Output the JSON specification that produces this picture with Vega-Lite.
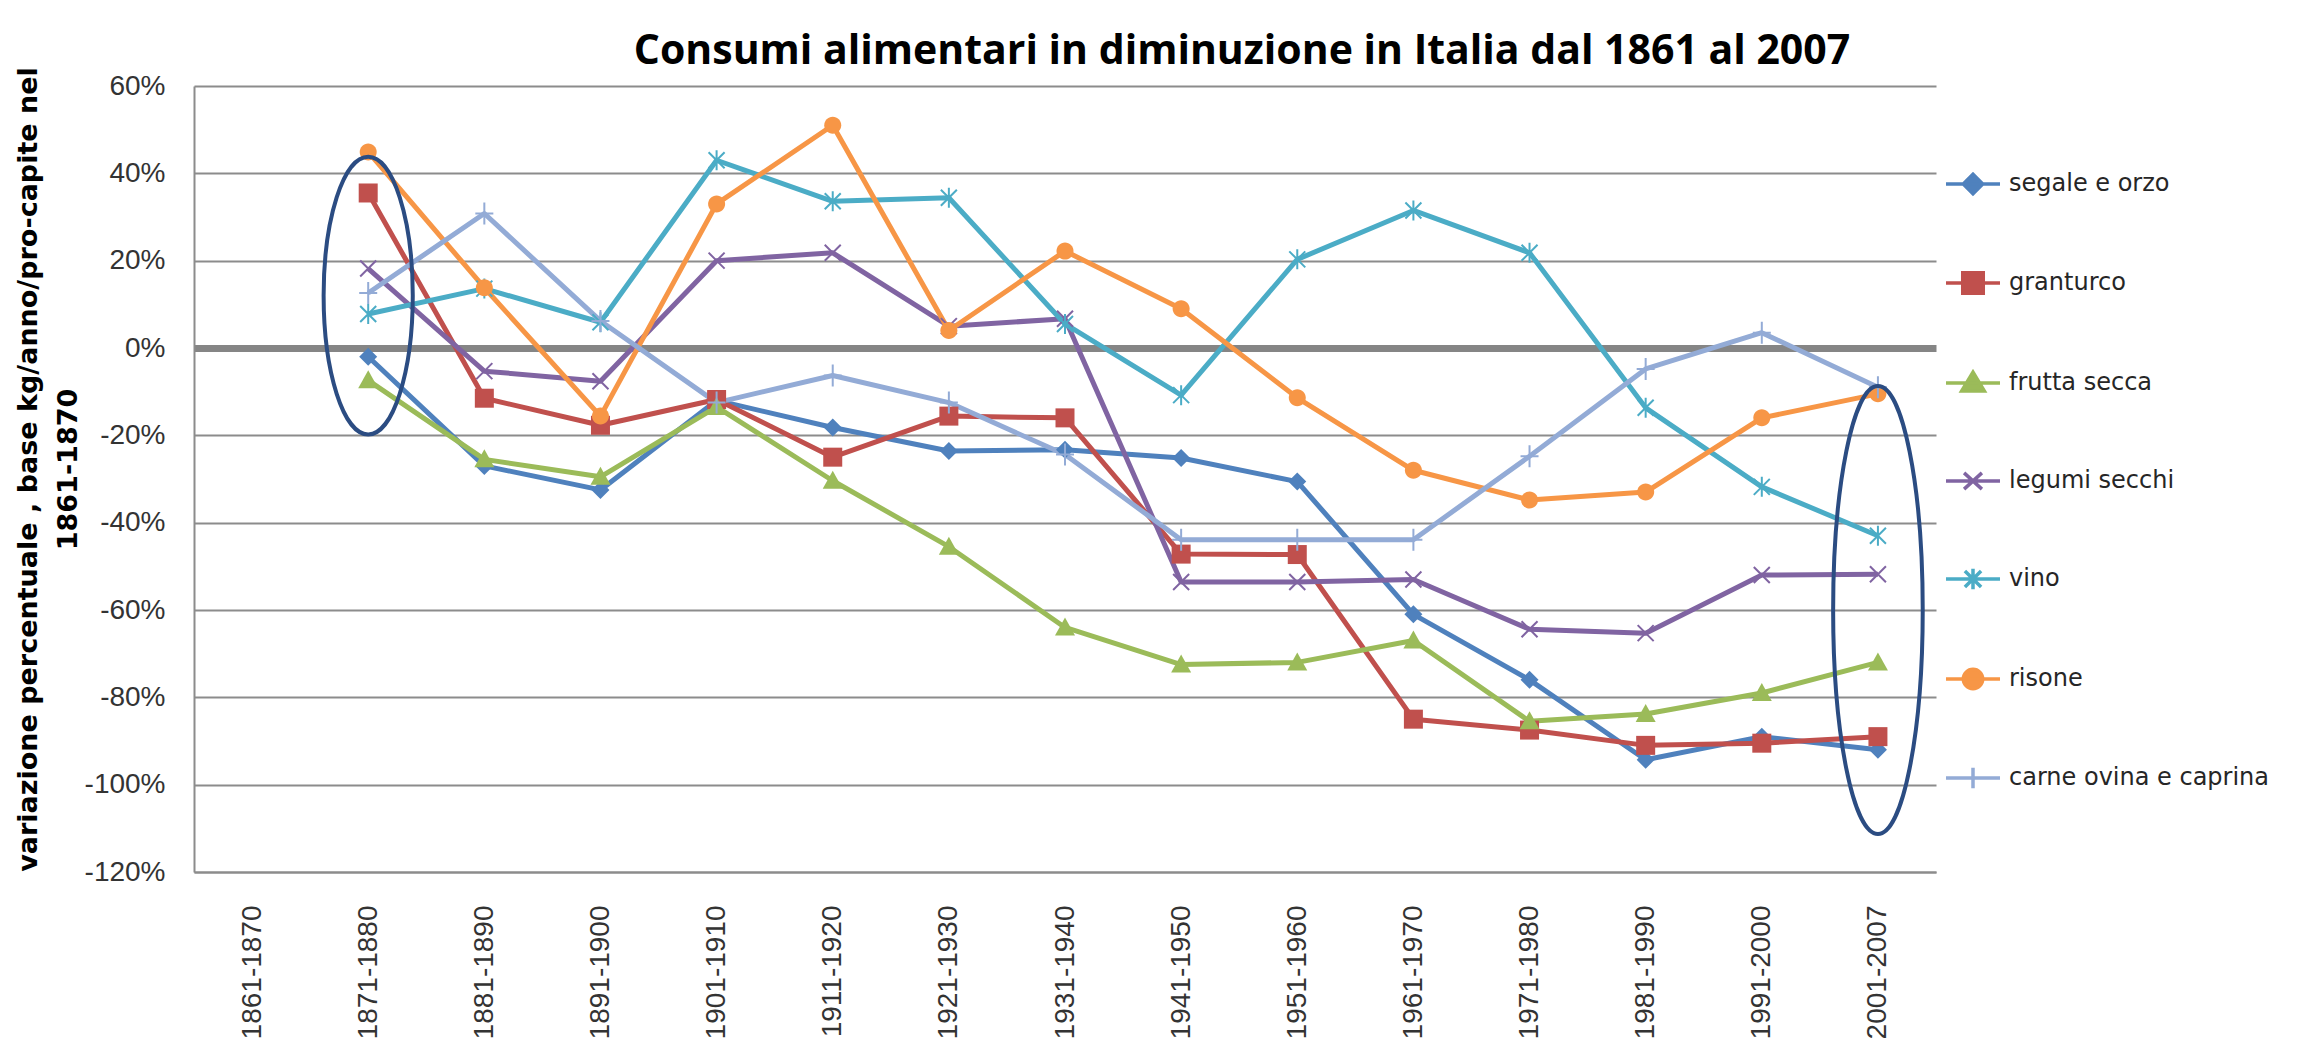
{
  "$schema": "https://vega.github.io/schema/vega-lite/v6.json",
  "width": 1742,
  "height": 786,
  "autosize": {"type": "none"},
  "padding": {"left": 194, "top": 86, "right": 377, "bottom": 186},
  "background": "white",
  "config": {"view": {"stroke": null}, "font": "Liberation Sans"},
  "title": {
    "text": "Consumi alimentari in diminuzione in Italia dal 1861 al 2007",
    "font": "Open Sans", "fontSize": 41, "fontWeight": "bold", "color": "#000000",
    "anchor": "middle", "dx": 177, "dy": 54, "offset": 16, "baseline": "alphabetic", "frame": "group"
  },
  "datasets": {
    "serie": [
      {"serie": "segale e orzo", "periodo": "1871-1880", "valore": -2},
      {"serie": "segale e orzo", "periodo": "1881-1890", "valore": -27},
      {"serie": "segale e orzo", "periodo": "1891-1900", "valore": -32.5},
      {"serie": "segale e orzo", "periodo": "1901-1910", "valore": -12},
      {"serie": "segale e orzo", "periodo": "1911-1920", "valore": -18.2},
      {"serie": "segale e orzo", "periodo": "1921-1930", "valore": -23.6},
      {"serie": "segale e orzo", "periodo": "1931-1940", "valore": -23.3},
      {"serie": "segale e orzo", "periodo": "1941-1950", "valore": -25.2},
      {"serie": "segale e orzo", "periodo": "1951-1960", "valore": -30.6},
      {"serie": "segale e orzo", "periodo": "1961-1970", "valore": -61},
      {"serie": "segale e orzo", "periodo": "1971-1980", "valore": -76},
      {"serie": "segale e orzo", "periodo": "1981-1990", "valore": -94.3},
      {"serie": "segale e orzo", "periodo": "1991-2000", "valore": -89},
      {"serie": "segale e orzo", "periodo": "2001-2007", "valore": -92},
      {"serie": "granturco", "periodo": "1871-1880", "valore": 35.5},
      {"serie": "granturco", "periodo": "1881-1890", "valore": -11.5},
      {"serie": "granturco", "periodo": "1891-1900", "valore": -17.7},
      {"serie": "granturco", "periodo": "1901-1910", "valore": -11.8},
      {"serie": "granturco", "periodo": "1911-1920", "valore": -25},
      {"serie": "granturco", "periodo": "1921-1930", "valore": -15.6},
      {"serie": "granturco", "periodo": "1931-1940", "valore": -16},
      {"serie": "granturco", "periodo": "1941-1950", "valore": -47.2},
      {"serie": "granturco", "periodo": "1951-1960", "valore": -47.3},
      {"serie": "granturco", "periodo": "1961-1970", "valore": -85},
      {"serie": "granturco", "periodo": "1971-1980", "valore": -87.5},
      {"serie": "granturco", "periodo": "1981-1990", "valore": -91},
      {"serie": "granturco", "periodo": "1991-2000", "valore": -90.5},
      {"serie": "granturco", "periodo": "2001-2007", "valore": -89},
      {"serie": "frutta secca", "periodo": "1871-1880", "valore": -7.4},
      {"serie": "frutta secca", "periodo": "1881-1890", "valore": -25.5},
      {"serie": "frutta secca", "periodo": "1891-1900", "valore": -29.5},
      {"serie": "frutta secca", "periodo": "1901-1910", "valore": -13.5},
      {"serie": "frutta secca", "periodo": "1911-1920", "valore": -30.4},
      {"serie": "frutta secca", "periodo": "1921-1930", "valore": -45.5},
      {"serie": "frutta secca", "periodo": "1931-1940", "valore": -64},
      {"serie": "frutta secca", "periodo": "1941-1950", "valore": -72.5},
      {"serie": "frutta secca", "periodo": "1951-1960", "valore": -72},
      {"serie": "frutta secca", "periodo": "1961-1970", "valore": -67},
      {"serie": "frutta secca", "periodo": "1971-1980", "valore": -85.5},
      {"serie": "frutta secca", "periodo": "1981-1990", "valore": -83.8},
      {"serie": "frutta secca", "periodo": "1991-2000", "valore": -79},
      {"serie": "frutta secca", "periodo": "2001-2007", "valore": -72},
      {"serie": "legumi secchi", "periodo": "1871-1880", "valore": 18.2},
      {"serie": "legumi secchi", "periodo": "1881-1890", "valore": -5.3},
      {"serie": "legumi secchi", "periodo": "1891-1900", "valore": -7.6},
      {"serie": "legumi secchi", "periodo": "1901-1910", "valore": 20},
      {"serie": "legumi secchi", "periodo": "1911-1920", "valore": 21.8},
      {"serie": "legumi secchi", "periodo": "1921-1930", "valore": 5},
      {"serie": "legumi secchi", "periodo": "1931-1940", "valore": 6.7},
      {"serie": "legumi secchi", "periodo": "1941-1950", "valore": -53.6},
      {"serie": "legumi secchi", "periodo": "1951-1960", "valore": -53.6},
      {"serie": "legumi secchi", "periodo": "1961-1970", "valore": -53},
      {"serie": "legumi secchi", "periodo": "1971-1980", "valore": -64.4},
      {"serie": "legumi secchi", "periodo": "1981-1990", "valore": -65.3},
      {"serie": "legumi secchi", "periodo": "1991-2000", "valore": -52},
      {"serie": "legumi secchi", "periodo": "2001-2007", "valore": -51.8},
      {"serie": "vino", "periodo": "1871-1880", "valore": 7.8},
      {"serie": "vino", "periodo": "1881-1890", "valore": 13.6},
      {"serie": "vino", "periodo": "1891-1900", "valore": 5.9},
      {"serie": "vino", "periodo": "1901-1910", "valore": 43},
      {"serie": "vino", "periodo": "1911-1920", "valore": 33.6},
      {"serie": "vino", "periodo": "1921-1930", "valore": 34.4},
      {"serie": "vino", "periodo": "1931-1940", "valore": 5.5},
      {"serie": "vino", "periodo": "1941-1950", "valore": -10.8},
      {"serie": "vino", "periodo": "1951-1960", "valore": 20.3},
      {"serie": "vino", "periodo": "1961-1970", "valore": 31.5},
      {"serie": "vino", "periodo": "1971-1980", "valore": 21.8},
      {"serie": "vino", "periodo": "1981-1990", "valore": -13.7},
      {"serie": "vino", "periodo": "1991-2000", "valore": -31.8},
      {"serie": "vino", "periodo": "2001-2007", "valore": -43},
      {"serie": "risone", "periodo": "1871-1880", "valore": 44.9},
      {"serie": "risone", "periodo": "1881-1890", "valore": 13.8},
      {"serie": "risone", "periodo": "1891-1900", "valore": -15.6},
      {"serie": "risone", "periodo": "1901-1910", "valore": 33},
      {"serie": "risone", "periodo": "1911-1920", "valore": 51},
      {"serie": "risone", "periodo": "1921-1930", "valore": 4},
      {"serie": "risone", "periodo": "1931-1940", "valore": 22.2},
      {"serie": "risone", "periodo": "1941-1950", "valore": 9},
      {"serie": "risone", "periodo": "1951-1960", "valore": -11.4},
      {"serie": "risone", "periodo": "1961-1970", "valore": -28},
      {"serie": "risone", "periodo": "1971-1980", "valore": -34.8},
      {"serie": "risone", "periodo": "1981-1990", "valore": -33},
      {"serie": "risone", "periodo": "1991-2000", "valore": -16},
      {"serie": "risone", "periodo": "2001-2007", "valore": -10.5},
      {"serie": "carne ovina e caprina", "periodo": "1871-1880", "valore": 12.6},
      {"serie": "carne ovina e caprina", "periodo": "1881-1890", "valore": 30.8},
      {"serie": "carne ovina e caprina", "periodo": "1891-1900", "valore": 6.2},
      {"serie": "carne ovina e caprina", "periodo": "1901-1910", "valore": -12.5},
      {"serie": "carne ovina e caprina", "periodo": "1911-1920", "valore": -6.3},
      {"serie": "carne ovina e caprina", "periodo": "1921-1930", "valore": -12.5},
      {"serie": "carne ovina e caprina", "periodo": "1931-1940", "valore": -24.4},
      {"serie": "carne ovina e caprina", "periodo": "1941-1950", "valore": -43.9},
      {"serie": "carne ovina e caprina", "periodo": "1951-1960", "valore": -43.9},
      {"serie": "carne ovina e caprina", "periodo": "1961-1970", "valore": -43.9},
      {"serie": "carne ovina e caprina", "periodo": "1971-1980", "valore": -24.8},
      {"serie": "carne ovina e caprina", "periodo": "1981-1990", "valore": -4.8},
      {"serie": "carne ovina e caprina", "periodo": "1991-2000", "valore": 3.5},
      {"serie": "carne ovina e caprina", "periodo": "2001-2007", "valore": -9}
    ]
  },
  "layer": [
    {
      "data": {"name": "serie"},
      "mark": {"type": "line", "strokeWidth": 5, "strokeJoin": "round"},
      "encoding": {
        "x": {
          "field": "periodo", "type": "ordinal",
          "scale": {"type": "point", "padding": 0.5, "domain": ["1861-1870","1871-1880","1881-1890","1891-1900","1901-1910","1911-1920","1921-1930","1931-1940","1941-1950","1951-1960","1961-1970","1971-1980","1981-1990","1991-2000","2001-2007"]},
          "axis": {
            "title": null, "labelAngle": 270, "labelPadding": 33, "ticks": false,
            "labelFont": "Liberation Sans", "labelFontSize": 28, "labelColor": "#333333",
            "domainColor": "#8c8c8c", "domainWidth": 2, "grid": false
          }
        },
        "y": {
          "field": "valore", "type": "quantitative",
          "scale": {"domain": [-120, 60], "nice": false},
          "axis": {
            "values": [-120,-100,-80,-60,-40,-20,0,20,40,60],
            "labelExpr": "datum.value + '%'",
            "labelFont": "Liberation Sans", "labelFontSize": 28, "labelColor": "#333333",
            "labelPadding": 29, "ticks": false,
            "domainColor": "#8c8c8c", "domainWidth": 2,
            "grid": true,
            "gridColor": {"condition": {"test": "datum.value === 0", "value": "#858585"}, "value": "#8c8c8c"},
            "gridWidth": {"condition": {"test": "datum.value === 0", "value": 7}, "value": 2},
            "title": ["variazione percentuale , base kg/anno/pro-capite nel", "1861-1870"],
            "titleFont": "DejaVu Sans", "titleFontSize": 27, "titleFontWeight": "bold", "titleColor": "#000000",
            "titleAngle": 270, "titleAlign": "center", "titleBaseline": "top",
            "titleX": -179, "titleY": 383, "titleLineHeight": 40
          }
        },
        "color": {
          "field": "serie", "type": "nominal",
          "scale": {
            "domain": ["segale e orzo","granturco","frutta secca","legumi secchi","vino","risone","carne ovina e caprina"],
            "range": ["#4F81BD","#C0504D","#9BBB59","#8064A2","#4BACC6","#F79646","#93ABD6"]
          },
          "legend": {
            "orient": "none", "legendX": 1750, "legendY": 69, "title": null,
            "labelFont": "DejaVu Sans", "labelFontSize": 24, "labelColor": "#262626",
            "labelOffset": 7, "labelLimit": 400, "symbolOpacity": 1,
            "symbolSize": 2916, "symbolStrokeWidth": 3.5, "rowPadding": 53
          }
        }
      }
    },
    {
      "data": {"name": "serie"},
      "transform": [{"filter": "datum.serie === 'segale e orzo'"}],
      "mark": {"type": "point", "filled": true, "size": 400, "opacity": 1, "shape": "M0,-0.9L0.9,0L0,0.9L-0.9,0Z"},
      "encoding": {"x": {"field": "periodo", "type": "ordinal"}, "y": {"field": "valore", "type": "quantitative"}, "color": {"field": "serie", "type": "nominal"}}
    },
    {
      "data": {"name": "serie"},
      "transform": [{"filter": "datum.serie === 'granturco'"}],
      "mark": {"type": "point", "filled": true, "size": 400, "opacity": 1, "shape": "M-0.95,-0.95H0.95V0.95H-0.95Z"},
      "encoding": {"x": {"field": "periodo", "type": "ordinal"}, "y": {"field": "valore", "type": "quantitative"}, "color": {"field": "serie", "type": "nominal"}}
    },
    {
      "data": {"name": "serie"},
      "transform": [{"filter": "datum.serie === 'frutta secca'"}],
      "mark": {"type": "point", "filled": true, "size": 400, "opacity": 1, "shape": "M0,-1L1,0.8H-1Z"},
      "encoding": {"x": {"field": "periodo", "type": "ordinal"}, "y": {"field": "valore", "type": "quantitative"}, "color": {"field": "serie", "type": "nominal"}}
    },
    {
      "data": {"name": "serie"},
      "transform": [{"filter": "datum.serie === 'legumi secchi'"}],
      "mark": {"type": "point", "filled": false, "size": 400, "strokeWidth": 2, "opacity": 1, "shape": "M-0.8,-0.8L0.8,0.8M-0.8,0.8L0.8,-0.8"},
      "encoding": {"x": {"field": "periodo", "type": "ordinal"}, "y": {"field": "valore", "type": "quantitative"}, "color": {"field": "serie", "type": "nominal"}}
    },
    {
      "data": {"name": "serie"},
      "transform": [{"filter": "datum.serie === 'vino'"}],
      "mark": {"type": "point", "filled": false, "size": 400, "strokeWidth": 2, "opacity": 1, "shape": "M-0.8,-0.8L0.8,0.8M-0.8,0.8L0.8,-0.8M0,-1V1"},
      "encoding": {"x": {"field": "periodo", "type": "ordinal"}, "y": {"field": "valore", "type": "quantitative"}, "color": {"field": "serie", "type": "nominal"}}
    },
    {
      "data": {"name": "serie"},
      "transform": [{"filter": "datum.serie === 'risone'"}],
      "mark": {"type": "point", "filled": true, "size": 400, "opacity": 1, "shape": "M0,-0.85C0.47,-0.85,0.85,-0.47,0.85,0C0.85,0.47,0.47,0.85,0,0.85C-0.47,0.85,-0.85,0.47,-0.85,0C-0.85,-0.47,-0.47,-0.85,0,-0.85Z"},
      "encoding": {"x": {"field": "periodo", "type": "ordinal"}, "y": {"field": "valore", "type": "quantitative"}, "color": {"field": "serie", "type": "nominal"}}
    },
    {
      "data": {"name": "serie"},
      "transform": [{"filter": "datum.serie === 'carne ovina e caprina'"}],
      "mark": {"type": "point", "filled": false, "size": 400, "strokeWidth": 2, "opacity": 1, "shape": "M-0.9,0H0.9M0,-1.1V1.1"},
      "encoding": {"x": {"field": "periodo", "type": "ordinal"}, "y": {"field": "valore", "type": "quantitative"}, "color": {"field": "serie", "type": "nominal"}}
    },
    {
      "data": {"name": "serie"},
      "transform": [{"filter": "datum.periodo === '2001-2007'"}],
      "mark": {"type": "point", "filled": true, "size": 10, "opacity": 0},
      "encoding": {
        "x": {"field": "periodo", "type": "ordinal"},
        "y": {"field": "valore", "type": "quantitative"},
        "color": {"field": "serie", "type": "nominal"},
        "shape": {
          "field": "serie", "type": "nominal",
          "scale": {
            "domain": ["segale e orzo","granturco","frutta secca","legumi secchi","vino","risone","carne ovina e caprina"],
            "range": [
              "M-1,0H1M0,-0.36L0.36,0L0,0.36L-0.36,0Z",
              "M-1,0H1M-0.38,-0.38H0.38V0.38H-0.38Z",
              "M-1,0H1M0,-0.4L0.42,0.3H-0.42Z",
              "M-1,0H1M-0.33,-0.3L0.33,0.3M-0.33,0.3L0.33,-0.3",
              "M-1,0H1M-0.3,-0.3L0.3,0.3M-0.3,0.3L0.3,-0.3M0,-0.38V0.38",
              "M-1,0H1M0,-0.36C0.2,-0.36,0.36,-0.2,0.36,0C0.36,0.2,0.2,0.36,0,0.36C-0.2,0.36,-0.36,0.2,-0.36,0C-0.36,-0.2,-0.2,-0.36,0,-0.36Z",
              "M-1,0H1M0,-0.38V0.38"
            ]
          },
          "legend": {
            "orient": "none", "legendX": 1750, "legendY": 69, "title": null,
            "labelFont": "DejaVu Sans", "labelFontSize": 24, "labelColor": "#262626",
            "labelOffset": 7, "labelLimit": 400, "symbolOpacity": 1,
            "symbolSize": 2916, "symbolStrokeWidth": 3.5, "rowPadding": 53
          }
        }
      }
    },
    {
      "data": {"values": [{"periodo": "1871-1880", "valore": 12}]},
      "mark": {
        "type": "point", "filled": false, "size": 200704, "strokeWidth": 4, "stroke": "#2B4C82", "opacity": 1,
        "shape": "M0,-0.62C0.1099,-0.62,0.199,-0.3424,0.199,0C0.199,0.3424,0.1099,0.62,0,0.62C-0.1099,0.62,-0.199,0.3424,-0.199,0C-0.199,-0.3424,-0.1099,-0.62,0,-0.62Z"
      },
      "encoding": {
        "x": {"field": "periodo", "type": "ordinal"},
        "y": {"field": "valore", "type": "quantitative"}
      }
    },
    {
      "data": {"values": [{"periodo": "2001-2007", "valore": -60}]},
      "mark": {
        "type": "point", "filled": false, "size": 200704, "strokeWidth": 4, "stroke": "#2B4C82", "opacity": 1,
        "shape": "M0,-1C0.1105,-1,0.2,-0.5523,0.2,0C0.2,0.5523,0.1105,1,0,1C-0.1105,1,-0.2,0.5523,-0.2,0C-0.2,-0.5523,-0.1105,-1,0,-1Z"
      },
      "encoding": {
        "x": {"field": "periodo", "type": "ordinal"},
        "y": {"field": "valore", "type": "quantitative"}
      }
    }
  ]
}
